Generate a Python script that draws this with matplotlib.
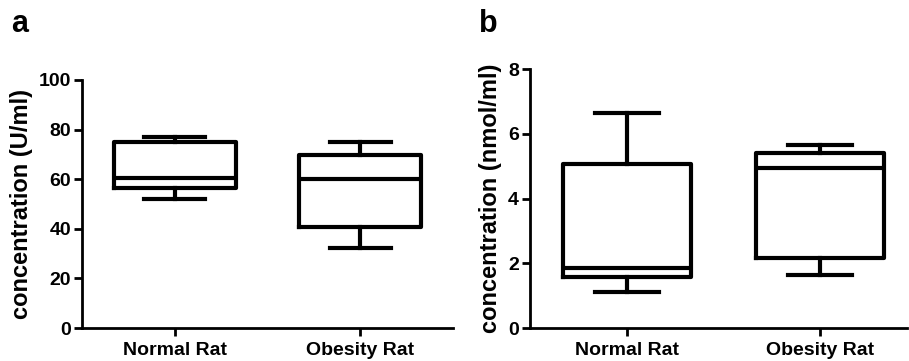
import matplotlib
matplotlib.use("Agg")
import matplotlib.pyplot as plt

# ── data ───────────────────────────────────────────────────
groups = ["Normal Rat", "Obesity Rat"]

# panel a : concentration (U/ml)
a_low = [51.9, 32.3]
a_q1 = [56.6, 40.9]
a_med = [60.6, 60.0]
a_q3 = [75.1, 69.8]
a_high = [77.0, 74.9]

# panel b : concentration (nmol/ml)
b_low = [1.12, 1.64]
b_q1 = [1.57, 2.16]
b_med = [1.84, 4.94]
b_q3 = [5.06, 5.40]
b_high = [6.66, 5.65]

plt.rcParams["font.family"] = ["Liberation Sans", "DejaVu Sans"]
plt.rcParams["font.weight"] = "bold"

fig = plt.figure(figsize=(9.09, 3.61), dpi=100)
fig.patch.set_facecolor("white")

LW = 3.0


def _stats(lo, q1, med, q3, hi):
    return [
        dict(whislo=lo[i], q1=q1[i], med=med[i], q3=q3[i], whishi=hi[i], fliers=[])
        for i in range(len(lo))
    ]


def _panel(ax, stats, ylim, yticks, ylabel, xlim):
    line = dict(color="black", linewidth=LW)
    ax.bxp(
        stats, positions=[1, 2], widths=0.66, capwidths=0.33,
        showfliers=False,
        boxprops=line, whiskerprops=line, capprops=line,
        medianprops=line,
    )
    ax.set_xlim(*xlim)
    ax.set_ylim(*ylim)
    ax.set_yticks(yticks)
    ax.set_xticks([1, 2])
    ax.set_xticklabels(groups, fontsize=14, fontweight="bold")
    ax.tick_params(axis="y", labelsize=14, width=2, length=6, pad=2)
    ax.tick_params(axis="x", width=2, length=6, pad=4)
    for t in ax.get_yticklabels():
        t.set_fontweight("bold")
    for s in ("top", "right"):
        ax.spines[s].set_visible(False)
    for s in ("left", "bottom"):
        ax.spines[s].set_linewidth(2)
    ax.set_ylabel(ylabel, fontsize=17, fontweight="bold", labelpad=4)
    ax.set_facecolor("none")


ax_a = fig.add_axes([0.0902, 0.0914, 0.408, 0.687])
_panel(ax_a, _stats(a_low, a_q1, a_med, a_q3, a_high),
       (0, 100), [0, 20, 40, 60, 80, 100], "concentration (U/ml)", (0.5, 2.5))

ax_b = fig.add_axes([0.583, 0.0914, 0.415, 0.717])
_panel(ax_b, _stats(b_low, b_q1, b_med, b_q3, b_high),
       (0, 8), [0, 2, 4, 6, 8], "concentration (nmol/ml)", (0.5, 2.45))

fig.text(0.012, 0.91, "a", fontsize=22, fontweight="bold")
fig.text(0.527, 0.91, "b", fontsize=22, fontweight="bold")

fig.savefig("out.png", dpi=100, facecolor=fig.get_facecolor())
plt.close(fig)
